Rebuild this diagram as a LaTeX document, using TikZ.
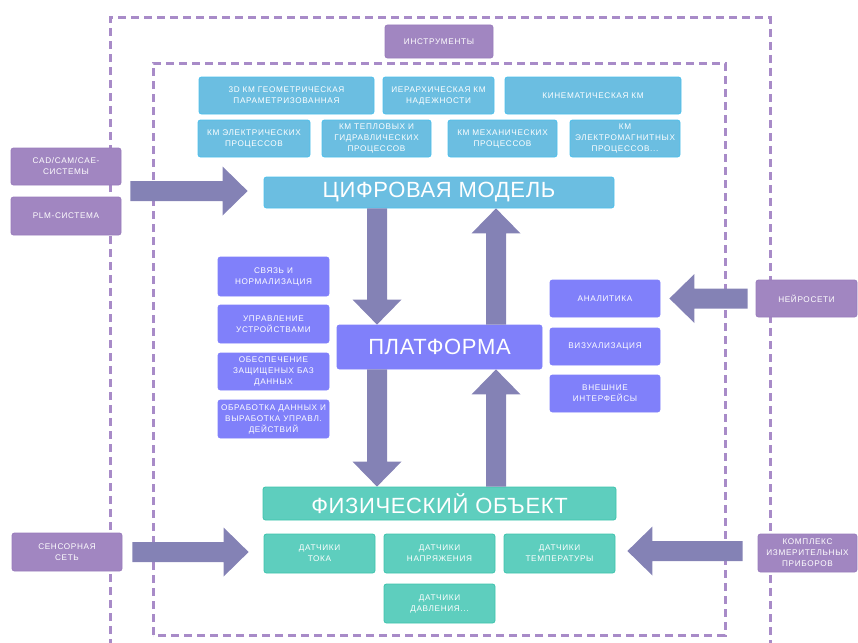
\documentclass[tikz,border=0pt]{standalone}
\usepackage{fontspec}
\setmainfont{Liberation Sans}
\newfontfamily\spacedfont[LetterSpace=8]{Liberation Sans}
\newfontfamily\bigfont[LetterSpace=3]{Liberation Sans}
\usetikzlibrary{calc}
\definecolor{purp}{HTML}{A186C1}
\definecolor{purpd}{HTML}{9A7DBC}
\definecolor{dashc}{HTML}{A88BC8}
\definecolor{arrowc}{HTML}{8482B5}
\definecolor{bluef}{HTML}{6BBEE1}
\definecolor{blued}{HTML}{4CC0EC}
\definecolor{violf}{HTML}{8080FA}
\definecolor{teal2}{HTML}{5ECEBE}
\definecolor{teald}{HTML}{3DC3AC}
\newcommand\blockarrow[2]{%
  \fill[arrowc] ($(#1)!10pt!90:(#2)$) -- ($($(#2)!25pt!(#1)$)!10pt!-90:(#1)$)
    -- ($($(#2)!25pt!(#1)$)!24.5pt!-90:(#1)$) -- (#2)
    -- ($($(#2)!25pt!(#1)$)!24.5pt!90:(#1)$) -- ($($(#2)!25pt!(#1)$)!10pt!90:(#1)$)
    -- ($(#1)!10pt!-90:(#2)$) -- cycle;}
\tikzset{
  boxbase/.style={rounded corners=2.5pt, inner sep=1pt, align=center, text=white,
    line width=0.8pt, font=\spacedfont\fontsize{8.2}{11}\selectfont},
  purpbox/.style={boxbase, fill=purp, draw=purpd},
  bluebox/.style={boxbase, fill=bluef, draw=blued},
  violbox/.style={boxbase, fill=violf, draw=violf},
  tealbox/.style={boxbase, fill=teal2, draw=teald},
  bigtext/.style={font=\bigfont\fontsize{22}{24}\selectfont},
  frame/.style={draw=dashc, line width=3pt, dash pattern=on 8pt off 5pt},
}
\begin{document}
\begin{tikzpicture}[x=1pt,y=-1pt]
\useasboundingbox (0,0) rectangle (858,642);
% frames
\draw[frame] (110,660) -- (110,18) -- (770,18) -- (770,660);
\draw[frame] (153,635) rectangle (725,63);
% top
\node[purpbox, minimum width=108pt, minimum height=33pt] (instr) at (439,41.5) {ИНСТРУМЕНТЫ};
\node[bluebox, minimum width=175pt, minimum height=37pt] (m1) at (286.5,95.5) {3D КМ ГЕОМЕТРИЧЕСКАЯ\\ПАРАМЕТРИЗОВАННАЯ};
\node[bluebox, minimum width=111pt, minimum height=37pt] (m2) at (438.5,95.5) {ИЕРАРХИЧЕСКАЯ КМ\\НАДЕЖНОСТИ};
\node[bluebox, minimum width=176pt, minimum height=37pt] (m3) at (593,95.5) {КИНЕМАТИЧЕСКАЯ КМ};
\node[bluebox, minimum width=112pt, minimum height=37pt] (m4) at (254,138.5) {КМ ЭЛЕКТРИЧЕСКИХ\\ПРОЦЕССОВ};
\node[bluebox, minimum width=109pt, minimum height=37pt] (m5) at (376.5,138.5) {КМ ТЕПЛОВЫХ И\\ГИДРАВЛИЧЕСКИХ\\ПРОЦЕССОВ};
\node[bluebox, minimum width=109pt, minimum height=37pt] (m6) at (502.5,138.5) {КМ МЕХАНИЧЕСКИХ\\ПРОЦЕССОВ};
\node[bluebox, minimum width=110pt, minimum height=37pt] (m7) at (625,138.5) {КМ\\ЭЛЕКТРОМАГНИТНЫХ\\ПРОЦЕССОВ...};
\node[bluebox, bigtext, minimum width=350pt, minimum height=31pt] (cm) at (439,192.5) {ЦИФРОВАЯ МОДЕЛЬ};
% left inputs
\node[purpbox, minimum width=110pt, minimum height=37pt] (cad) at (66,166.5) {CAD/CAM/CAE-\\СИСТЕМЫ};
\node[purpbox, minimum width=110pt, minimum height=38pt] (plm) at (66,216) {PLM-СИСТЕМА};
% platform services
\node[violbox, minimum width=111pt, minimum height=39pt] (s1) at (273.5,276.5) {СВЯЗЬ И\\НОРМАЛИЗАЦИЯ};
\node[violbox, minimum width=111pt, minimum height=38pt] (s2) at (273.5,324) {УПРАВЛЕНИЕ\\УСТРОЙСТВАМИ};
\node[violbox, minimum width=111pt, minimum height=37pt] (s3) at (273.5,371.5) {ОБЕСПЕЧЕНИЕ\\ЗАЩИЩЕНЫХ БАЗ\\ДАННЫХ};
\node[violbox, minimum width=111pt, minimum height=38pt] (s4) at (273.5,419) {ОБРАБОТКА ДАННЫХ И\\ВЫРАБОТКА УПРАВЛ.\\ДЕЙСТВИЙ};
\node[violbox, bigtext, minimum width=205pt, minimum height=44pt] (plat) at (439.5,347) {ПЛАТФОРМА};
\node[violbox, minimum width=110pt, minimum height=37pt] (r1) at (605,298.5) {АНАЛИТИКА};
\node[violbox, minimum width=110pt, minimum height=37pt] (r2) at (605,346.5) {ВИЗУАЛИЗАЦИЯ};
\node[violbox, minimum width=110pt, minimum height=37pt] (r3) at (605,393.5) {ВНЕШНИЕ\\ИНТЕРФЕЙСЫ};
\node[purpbox, minimum width=101pt, minimum height=37pt] (neuro) at (806.5,298.5) {НЕЙРОСЕТИ};
% physical object
\node[tealbox, bigtext, minimum width=353pt, minimum height=33pt] (fo) at (439.5,503.5) {ФИЗИЧЕСКИЙ ОБЪЕКТ};
\node[tealbox, minimum width=111pt, minimum height=39pt] (d1) at (319.5,553.5) {ДАТЧИКИ\\ТОКА};
\node[tealbox, minimum width=111pt, minimum height=39pt] (d2) at (439.5,553.5) {ДАТЧИКИ\\НАПРЯЖЕНИЯ};
\node[tealbox, minimum width=111pt, minimum height=39pt] (d3) at (559.5,553.5) {ДАТЧИКИ\\ТЕМПЕРАТУРЫ};
\node[tealbox, minimum width=111pt, minimum height=39pt] (d4) at (439.5,603.5) {ДАТЧИКИ\\ДАВЛЕНИЯ...};
\node[purpbox, minimum width=110pt, minimum height=38pt] (sens) at (67,552) {СЕНСОРНАЯ\\СЕТЬ};
\node[purpbox, minimum width=99pt, minimum height=38pt] (komp) at (807.5,553) {КОМПЛЕКС\\ИЗМЕРИТЕЛЬНЫХ\\ПРИБОРОВ};
% arrow end points
\coordinate (a1s) at ([xshift=9pt]$(cad.south east)!0.5!(plm.north east)$);
\coordinate (a1e) at ([xshift=-16pt]cm.west |- a1s);
\coordinate (v1s) at (377,0 |- cm.south);
\coordinate (v1e) at (377,0 |- plat.north);
\coordinate (v2s) at (496,0 |- plat.north);
\coordinate (v2e) at (496,0 |- cm.south);
\coordinate (v3s) at (377,0 |- plat.south);
\coordinate (v3e) at (377,0 |- fo.north);
\coordinate (v4s) at (496,0 |- fo.north);
\coordinate (v4e) at (496,0 |- plat.south);
\coordinate (a2s) at ([xshift=-8pt]neuro.west);
\coordinate (a2e) at ([xshift=9pt]r1.east);
\coordinate (a3s) at ([xshift=10pt]sens.east);
\coordinate (a3e) at ([xshift=-15pt]d1.west |- sens.east);
\coordinate (a4s) at ([xshift=-15pt]komp.west |- 0,551);
\coordinate (a4e) at ([xshift=12pt]d3.east |- 0,551);
\blockarrow{a1s}{a1e}
\blockarrow{v1s}{v1e}
\blockarrow{v2s}{v2e}
\blockarrow{v3s}{v3e}
\blockarrow{v4s}{v4e}
\blockarrow{a2s}{a2e}
\blockarrow{a3s}{a3e}
\blockarrow{a4s}{a4e}
\end{tikzpicture}
\end{document}
